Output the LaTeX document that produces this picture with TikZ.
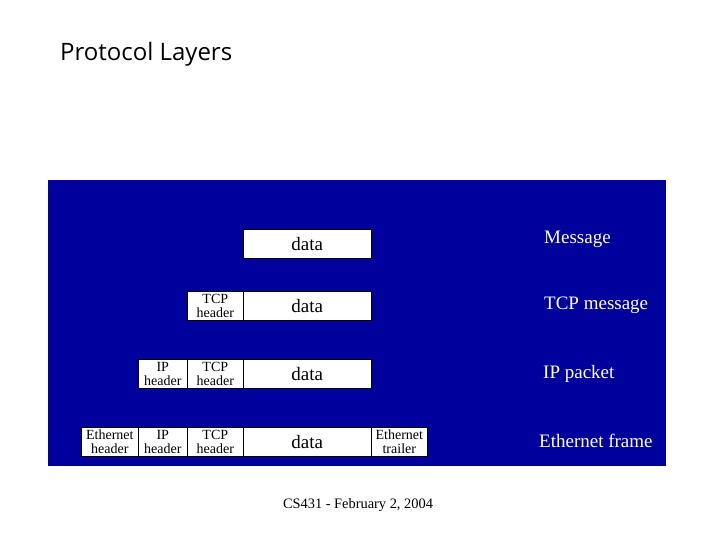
\documentclass[tikz,border=0pt]{standalone}
\usepackage{fontspec}
\setmainfont{Liberation Serif}
\newfontfamily\titlefont{Open Sans}
\definecolor{slideblue}{HTML}{00009C}
\begin{document}
\begin{tikzpicture}[x=1pt,y=-1pt,
  cell/.style={draw=black,line width=0.6pt,fill=white,inner sep=0pt,anchor=north west},
  small/.style={font=\fontsize{14}{13.5}\selectfont,align=center},
  big/.style={font=\fontsize{19}{20}\selectfont},
  lbl/.style={font=\fontsize{19}{20}\selectfont,text=white,anchor=west}]
\useasboundingbox (0,0) rectangle (720,540);
\fill[white] (0,0) rectangle (720,540);
\node[font=\titlefont\fontsize{24}{28}\selectfont,anchor=west,inner sep=0pt] (title) at (60,54) {Protocol Layers};
\fill[slideblue] (48,180) rectangle (666,466);
% row 1
\node[cell,minimum width=128,minimum height=29,big] (d1) at (243,229) {data};
% row 2
\node[cell,minimum width=56,minimum height=29,small] (t2) at (187,291) {TCP\\header};
\node[cell,minimum width=128,minimum height=29,big] (d2) at (243,291) {data};
% row 3
\node[cell,minimum width=49,minimum height=29,small] (i3) at (138,359) {IP\\header};
\node[cell,minimum width=56,minimum height=29,small] (t3) at (187,359) {TCP\\header};
\node[cell,minimum width=128,minimum height=29,big] (d3) at (243,359) {data};
% row 4
\node[cell,minimum width=57,minimum height=29,small] (e4) at (81,427) {Ethernet\\header};
\node[cell,minimum width=49,minimum height=29,small] (i4) at (138,427) {IP\\header};
\node[cell,minimum width=56,minimum height=29,small] (t4) at (187,427) {TCP\\header};
\node[cell,minimum width=128,minimum height=29,big] (d4) at (243,427) {data};
\node[cell,minimum width=56,minimum height=29,small] (r4) at (371,427) {Ethernet\\trailer};
% labels
\node[lbl,inner sep=0pt] (l1) at (544,239) {Message};
\node[lbl,inner sep=0pt] (l2) at (544,305) {TCP message};
\node[lbl,inner sep=0pt] (l3) at (543,374) {IP packet};
\node[lbl,inner sep=0pt] (l4) at (539,441) {Ethernet frame};
\node[font=\fontsize{14.4}{16}\selectfont,inner sep=0pt] (foot) at (358,505) {CS431 - February 2, 2004};
\end{tikzpicture}
\end{document}
